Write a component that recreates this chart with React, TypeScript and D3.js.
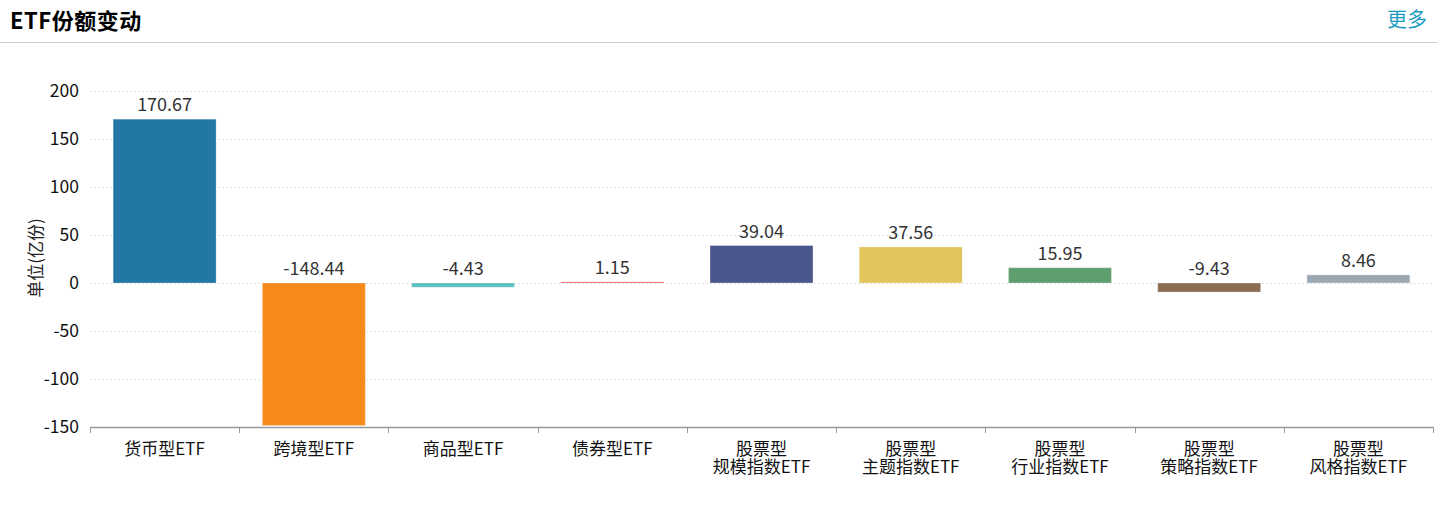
import React from "react";
import * as d3 from "d3";

const categories = [
  "货币型ETF",
  "跨境型ETF",
  "商品型ETF",
  "债券型ETF",
  "股票型\n规模指数ETF",
  "股票型\n主题指数ETF",
  "股票型\n行业指数ETF",
  "股票型\n策略指数ETF",
  "股票型\n风格指数ETF",
];
const values = [170.67, -148.44, -4.43, 1.15, 39.04, 37.56, 15.95, -9.43, 8.46];
const colors = ["#2377a4", "#f5891a", "#5bc0be", "#e8504f", "#4b568d", "#e3c45a", "#5f9e6e", "#8c6d52", "#9aa8b4"];
const yTicks = [200, 150, 100, 50, 0, -50, -100, -150];

const W = 1437;
const H = 507;
const FONT = "'Noto Sans CJK SC', 'Microsoft YaHei', sans-serif";

export default function App() {
  const left = 90, right = 1433, top = 91, bottom = 427;
  const x = d3.scaleBand<number>().domain(d3.range(categories.length)).range([left, right]).paddingInner(0.31).paddingOuter(0.155);
  const xb = d3.scaleBand<number>().domain(d3.range(categories.length)).range([left, right]);
  const y = d3.scaleLinear().domain([-150, 200]).range([bottom, top]);

  return (
    <svg width={W} height={H} style={{ position: "absolute", left: 0, top: 0, background: "#fff" }} fontFamily={FONT}>
      <text x={10} y={29} fontSize={22} fontWeight="bold" fill="#000" letterSpacing={0.5}>ETF份额变动</text>
      <text x={1427} y={27} fontSize={20} fill="#1a9bbf" textAnchor="end">更多</text>
      <line x1={0} x2={W} y1={42.5} y2={42.5} stroke="#cccccc" strokeWidth={1} />

      {yTicks.map((t) => (
        <g key={t}>
          {t !== -150 && (
            <line x1={left} x2={right} y1={Math.round(y(t)) + 0.5} y2={Math.round(y(t)) + 0.5} stroke="#dde0e6" strokeDasharray="2,2" />
          )}
          <text x={79} y={y(t)} dy="0.35em" fontSize={17.5} textAnchor="end" fill="#111">{t}</text>
        </g>
      ))}

      <text transform={`translate(42,258) rotate(-90)`} fontSize={17} textAnchor="middle" fill="#222">单位(亿份)</text>

      {values.map((v, i) => {
        const y0 = y(0);
        const yv = y(v);
        const h = Math.max(1, Math.abs(yv - y0));
        const yTop = Math.min(yv, y0);
        const labelY = (v >= 0 ? yv : y0) - 8;
        return (
          <g key={i}>
            <rect x={x(i)} y={yTop} width={x.bandwidth()} height={h} fill={colors[i]} stroke="rgba(255,255,255,0.3)" strokeWidth={1} />
            <text x={(x(i) as number) + x.bandwidth() / 2} y={labelY} fontSize={18} textAnchor="middle" fill="#333">{v.toFixed(2)}</text>
          </g>
        );
      })}

      <line x1={left} x2={right} y1={bottom + 0.5} y2={bottom + 0.5} stroke="#999" strokeWidth={1.5} />
      {d3.range(categories.length + 1).map((i) => {
        const xx = Math.round(i < categories.length ? (xb(i) as number) : right) + 0.5;
        return <line key={i} x1={xx} x2={xx} y1={bottom} y2={bottom + 6} stroke="#999" strokeWidth={1} />;
      })}
      {categories.map((c, i) => {
        const lines = c.split("\n");
        const cx = (xb(i) as number) + xb.bandwidth() / 2;
        return (
          <g key={i}>
            {lines.map((l, j) => (
              <text key={j} x={cx} y={455 + j * 18} fontSize={17} textAnchor="middle" fill="#111">{l}</text>
            ))}
          </g>
        );
      })}
    </svg>
  );
}
